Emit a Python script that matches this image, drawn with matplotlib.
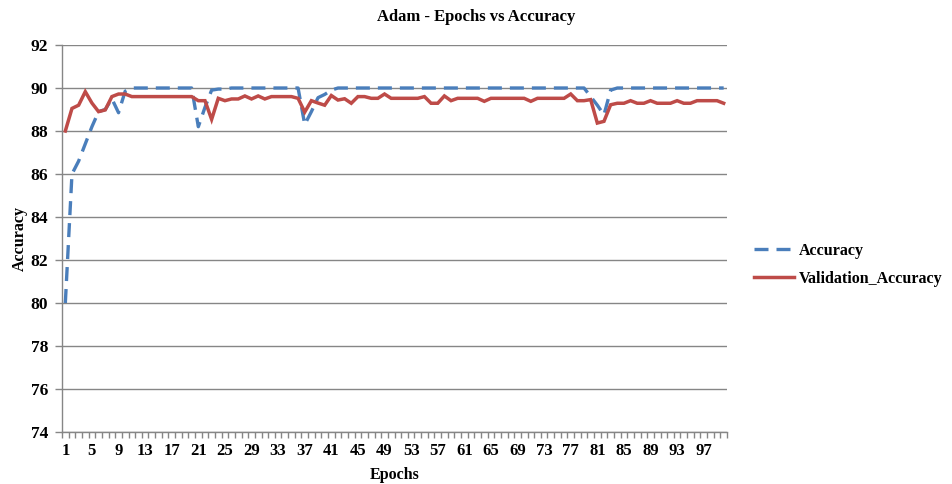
import matplotlib
matplotlib.use("Agg")
import matplotlib.pyplot as plt
from matplotlib.ticker import FixedLocator, NullFormatter

plt.rcParams['font.family'] = ['Liberation Serif', 'DejaVu Serif']
plt.rcParams['font.weight'] = 'bold'

# data
epochs = list(range(1, 101))
accuracy = ([80.0, 86.0, 86.6, 87.4, 88.2, 88.9, 89.0, 89.5, 88.85, 89.85]
            + [90.0] * 10
            + [88.2, 89.1, 89.9, 89.95, 89.95]
            + [90.0] * 11
            + [88.3, 88.9, 89.55, 89.7, 89.9]
            + [90.0] * 38
            + [89.6, 89.2, 88.75, 89.9]
            + [90.0] * 17)
val_accuracy = ([88.0, 89.05, 89.2, 89.83, 89.3, 88.9, 88.98, 89.6, 89.72, 89.72]
                + [89.6] * 10
                + [89.41, 89.41, 88.54, 89.52, 89.41, 89.49, 89.49, 89.63, 89.49, 89.63,
                   89.49, 89.6, 89.6, 89.6, 89.6, 89.52, 88.88, 89.41, 89.3, 89.2,
                   89.65, 89.44, 89.5, 89.29, 89.6, 89.6, 89.52, 89.52, 89.72, 89.52,
                   89.52, 89.52, 89.52, 89.52, 89.6, 89.29, 89.29, 89.63, 89.41, 89.52,
                   89.52, 89.52, 89.52, 89.38, 89.52, 89.52, 89.52, 89.52, 89.52, 89.52,
                   89.38, 89.52, 89.52, 89.52, 89.52, 89.52, 89.72, 89.41, 89.41, 89.46,
                   88.37, 88.45, 89.22, 89.29, 89.29, 89.41, 89.29, 89.29, 89.41, 89.29,
                   89.29, 89.29, 89.41, 89.29, 89.29, 89.41, 89.41, 89.41, 89.41, 89.29])
x_labels = list(range(1, 101, 4))
y_ticks = list(range(74, 93, 2))

blue = '#4A7EBB'
red = '#BE4B48'
grey = '#868686'

fig = plt.figure(figsize=(9.52, 4.84), dpi=100)
ax = fig.add_axes([62 / 952, 1 - 432 / 484, (727 - 62) / 952, (432 - 45) / 484])

ax.plot(epochs, accuracy, color=blue, lw=2.4, dashes=(4.2, 2.4), label='Accuracy')
ax.plot(epochs, val_accuracy, color=red, lw=2.5, label='Validation_Accuracy',
        solid_joinstyle='miter')

ax.set_xlim(0.5, 100.5)
ax.set_ylim(74, 92)
ax.set_yticks(y_ticks)
ax.yaxis.grid(True, color=grey, lw=1)
ax.set_axisbelow(True)

ax.xaxis.set_major_locator(FixedLocator(x_labels))
ax.xaxis.set_minor_locator(FixedLocator([i + 0.5 for i in range(0, 101)]))
ax.xaxis.set_minor_formatter(NullFormatter())
ax.tick_params(axis='x', which='major', length=0, pad=8, labelsize=12)
ax.tick_params(axis='x', which='minor', length=4, color=grey, width=1)
ax.tick_params(axis='y', length=5, color=grey, width=1, labelsize=12.5, pad=5)

for s in ['top', 'right']:
    ax.spines[s].set_visible(False)
for s in ['left', 'bottom']:
    ax.spines[s].set_color(grey)
    ax.spines[s].set_linewidth(1)

ax.set_xlabel('Epochs', fontsize=11.5, fontweight='bold', labelpad=6)
ax.set_ylabel('Accuracy', fontsize=11.5, fontweight='bold', labelpad=2)

fig.text(0.5, 1 - 17 / 484, 'Adam - Epochs vs Accuracy', ha='center', va='center',
         fontsize=12, fontweight='bold')

ax.legend(loc='center left', bbox_to_anchor=(740 / 952, 1 - 265 / 484),
          bbox_transform=fig.transFigure, frameon=False, fontsize=11.5,
          handlelength=2.5, handletextpad=0.3, labelspacing=0.75)

fig.savefig('out.png', dpi=100)
